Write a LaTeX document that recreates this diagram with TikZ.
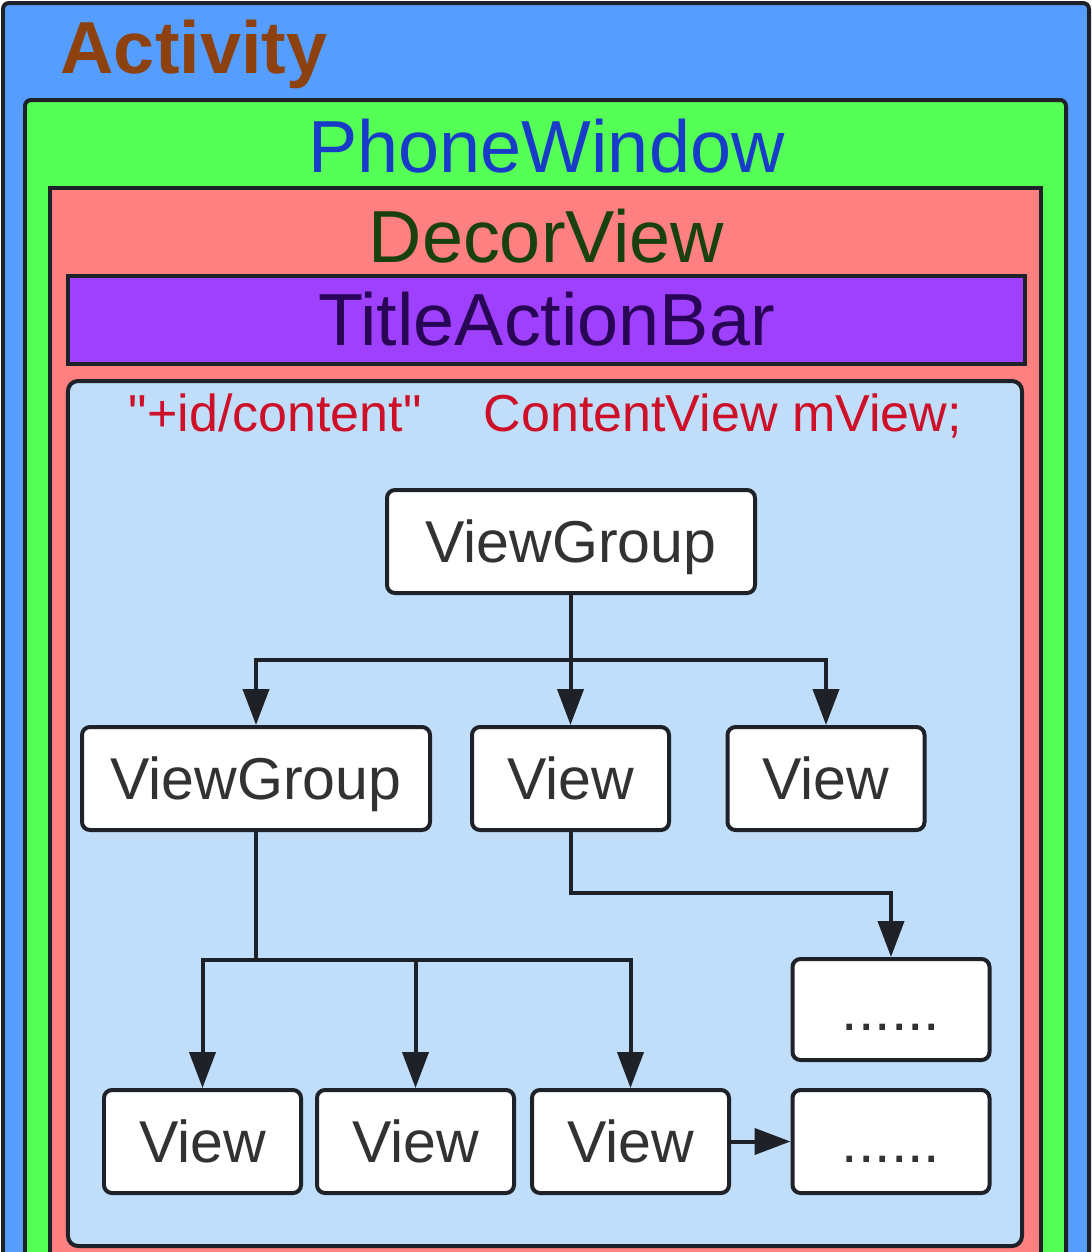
\documentclass[tikz,border=0pt]{standalone}
\usepackage{fontspec}
\setmainfont{Liberation Sans}
\usetikzlibrary{positioning,arrows.meta}

\definecolor{actblue}{RGB}{85,157,255}
\definecolor{wingreen}{RGB}{85,255,85}
\definecolor{decorpink}{RGB}{255,128,128}
\definecolor{barpurple}{RGB}{160,64,255}
\definecolor{contblue}{RGB}{192,222,250}
\definecolor{edgedark}{RGB}{30,34,40}
\definecolor{acttext}{RGB}{140,65,15}
\definecolor{phonetext}{RGB}{25,60,200}
\definecolor{decortext}{RGB}{25,65,15}
\definecolor{bartext}{RGB}{40,5,85}
\definecolor{idred}{RGB}{205,15,40}
\definecolor{boxtext}{RGB}{50,50,50}

\begin{document}
\begin{tikzpicture}[
  layer/.style={draw=edgedark,line width=0.04cm,rounded corners=0.06cm},
  title/.style={anchor=base,inner sep=0pt,font=\fontsize{21}{25}\selectfont},
  vbox/.style={draw=edgedark,fill=white,line width=0.04cm,rounded corners=0.08cm,
    minimum width=1.97cm,minimum height=1.03cm,inner sep=0pt,text=boxtext,
    text height=12pt,text depth=0pt,font=\fontsize{16.8}{20}\selectfont},
  wire/.style={draw=edgedark,line width=0.04cm},
  arr/.style={wire,-{Triangle[length=0.36cm,width=0.26cm]}}
]
\useasboundingbox (0,0) rectangle (10.92,-12.52);
\clip (0,0) rectangle (10.92,-12.52);

\draw[layer,fill=actblue] (0.03,-0.03) rectangle (10.89,-13.0);
\node[title,anchor=base west,font=\fontsize{21}{25}\selectfont\bfseries,text=acttext] (act) at (0.60,-0.73) {Activity};

\draw[layer,fill=wingreen] (0.25,-1.00) rectangle (10.66,-13.0);
\node[title,text=phonetext] (phone) at (5.465,-1.72) {PhoneWindow};

\draw[layer,fill=decorpink,rounded corners=0] (0.50,-1.88) rectangle (10.41,-13.0);
\node[title,text=decortext] (decor) at (5.465,-2.62) {DecorView};

\draw[layer,fill=barpurple,rounded corners=0] (0.68,-2.76) rectangle (10.25,-3.64);
\node[title,text=bartext] (bar) at (5.465,-3.45) {TitleActionBar};

\draw[layer,fill=contblue,rounded corners=0.1cm] (0.68,-3.81) rectangle (10.22,-12.46);
\node[title,anchor=base west,text=idred,font=\fontsize{14.8}{18}\selectfont] (cid) at (1.28,-4.31) {\textquotedbl+id/content\textquotedbl};
\node[title,anchor=base west,text=idred,font=\fontsize{14.8}{18}\selectfont] (cview) at (4.83,-4.31) {ContentView mView;};

\node[vbox,minimum width=3.68cm] (vg) at (5.71,-5.415) {ViewGroup};
\node[vbox,minimum width=3.48cm] (vga) at (2.56,-7.785) {ViewGroup};
\node[vbox] (vb) at (5.705,-7.785) {View};
\node[vbox] (vc) at (8.26,-7.785) {View};
\node[vbox,minimum height=1.01cm] (d1) at (8.91,-10.095) {......};
\foreach \x [count=\i] in {2.025,4.155,6.305}{
  \node[vbox] (w\i) at (\x,-11.415) {View};
}
\node[vbox] (d2) at (8.91,-11.415) {......};

\draw[wire] (vg.south) -- ++(0,-0.65) coordinate (j1);
\draw[arr] (j1) -| (vga.north);
\draw[arr] (j1) -| (vb.north);
\draw[arr] (j1) -| (vc.north);

\draw[arr] (vb.south) -- ++(0,-0.61) -| (d1.north);

\draw[wire] (vga.south) -- ++(0,-1.28) coordinate (j2);
\foreach \i in {1,2,3}{
  \draw[arr] (j2) -| (w\i.north);
}
\draw[arr] (w3.east) -- (d2.west);
\end{tikzpicture}
\end{document}
